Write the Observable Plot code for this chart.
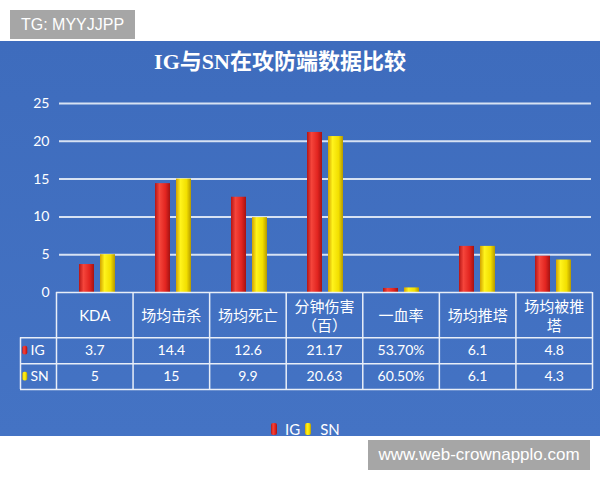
<!DOCTYPE html>
<html><head><meta charset="utf-8">
<script src="https://cdn.jsdelivr.net/npm/d3@7"></script>
<script src="https://cdn.jsdelivr.net/npm/@observablehq/plot@0.6"></script>
<style>
body{margin:0;background:#fff;width:600px;height:480px;position:relative;overflow:hidden;font-family:Lato,"Noto Sans CJK SC",sans-serif}
.wm{position:absolute;background:#a6a6a6;color:#fff;font-family:"Liberation Sans",Arial,sans-serif;display:flex;align-items:center;justify-content:center}
#wm1{left:10px;top:10px;width:125px;height:29px;font-size:16px}
#wm2{left:368px;top:440px;width:222px;height:30px;font-size:17px}
#panel{position:absolute;left:0;top:41px;width:600px;height:395px;background:linear-gradient(180deg,#3e6cbd,#4473c4)}
#title{position:absolute;left:0;top:6px;width:560px;text-align:center;font-weight:bold;font-size:22px;line-height:30px;font-family:"Liberation Serif","Noto Sans CJK SC",serif;color:#fff}
#chart{position:absolute;left:0;top:44px}
#table{position:absolute;left:0;top:249px}
#legend{position:absolute;left:271px;top:379px;display:flex;align-items:center;color:#fff;font-size:15px;line-height:18px}
.sw{display:inline-block;width:6px;height:12px;border-radius:2px}
.sw.ig{background:linear-gradient(90deg,#b51515,#f5443a 35%,#e02520 70%,#a81212)}
.sw.sn{background:linear-gradient(90deg,#d8a800,#fff21a 35%,#f3e000 70%,#b89c00)}
</style></head>
<body>
<div class="wm" id="wm1">TG: MYYJJPP</div>
<div id="panel">
  <div id="title">IG与SN在攻防端数据比较</div>
  <div id="chart"></div>
  <div id="table"></div>
  <div id="legend"><span class="sw ig"></span><span style="margin:0 5px 0 8px">IG</span><span class="sw sn"></span><span style="margin-left:9px">SN</span></div>
</div>
<div class="wm" id="wm2">www.web-crownapplo.com</div>
<script>
// ---- data ----
const categories = ["KDA", "场均击杀", "场均死亡", "分钟伤害\n（百）", "一血率", "场均推塔", "场均被推\n塔"];
const teams = ["IG", "SN"];
const igValues = [3.7, 14.4, 12.6, 21.17, 0.537, 6.1, 4.8];
const snValues = [5, 15, 9.9, 20.63, 0.605, 6.1, 4.3];
const percentCategories = ["一血率"];
const yTicks = [0, 5, 10, 15, 20, 25];

const rows = [];
categories.forEach((c, i) => {
  rows.push({category: c, team: "IG", value: igValues[i], i});
  rows.push({category: c, team: "SN", value: snValues[i], i});
});
const fmtPct = d3.format(".2%");
const fmt = (c, v) => percentCategories.includes(c) ? fmtPct(v) : String(v);

const font = 'Lato, "Noto Sans CJK SC", sans-serif';

// ---- bar chart ----
const chart = Plot.plot({
  width: 600, height: 217,
  marginTop: 18, marginBottom: 10, marginLeft: 57, marginRight: 8,
  style: {background: "transparent", color: "#fff", fontFamily: font, fontSize: "14px", overflow: "visible"},
  facet: {data: rows, x: "category"},
  fx: {domain: categories, padding: 0, axis: null},
  x: {domain: teams, axis: null, paddingInner: 0.27, paddingOuter: 0.88},
  y: {domain: [0, 25], ticks: yTicks, tickSize: 0, tickPadding: 10, label: null},
  marks: [
    Plot.ruleY(yTicks.filter(d => d > 0), {stroke: "#e8eef8", strokeWidth: 2, strokeOpacity: 0.9}),
    Plot.barY(rows, {filter: d => d.team === "IG", x: "team", y: "value", fill: "url(#gIG)"}),
    Plot.barY(rows, {filter: d => d.team === "SN", x: "team", y: "value", fill: "url(#gSN)"})
  ]
});
chart.insertAdjacentHTML("afterbegin", `<defs>
<linearGradient id="gIG" x1="0" x2="1" y1="0" y2="0">
<stop offset="0" stop-color="#b51515"/><stop offset="0.3" stop-color="#f5453b"/><stop offset="0.7" stop-color="#e22520"/><stop offset="1" stop-color="#a51212"/></linearGradient>
<linearGradient id="gSN" x1="0" x2="1" y1="0" y2="0">
<stop offset="0" stop-color="#d2a200"/><stop offset="0.3" stop-color="#fff31c"/><stop offset="0.7" stop-color="#f2df00"/><stop offset="1" stop-color="#b59a00"/></linearGradient>
</defs>`);
document.getElementById("chart").append(chart);

// ---- data table ----
const n = categories.length;
const labelCol = -0.47;          // width of the series-label column, in column units
const hdr = 1.75;                // header row height, in row units
const cells = [];
categories.forEach((c, i) => {
  cells.push({x: i + 0.5, y: hdr + 0.5, text: fmt(c, igValues[i])});
  cells.push({x: i + 0.5, y: hdr + 1.5, text: fmt(c, snValues[i])});
});
const heads = categories.map((c, i) => ({x: i + 0.5, y: hdr / 2, text: c}));
const rowLabels = teams.map((t, k) => ({team: t, y: hdr + 0.5 + k}));

const table = Plot.plot({
  width: 600, height: 102,
  marginTop: 2, marginBottom: 3, marginLeft: 20, marginRight: 8,
  style: {background: "transparent", color: "#fff", fontFamily: font, overflow: "visible"},
  x: {domain: [labelCol, n], axis: null},
  y: {domain: [0, hdr + 2], reverse: true, axis: null},
  marks: [
    Plot.ruleY([0], {x1: 0, x2: n, stroke: "#e8eef8", strokeWidth: 1.5}),
    Plot.ruleY([hdr, hdr + 1, hdr + 2], {x1: labelCol, x2: n, stroke: "#e8eef8", strokeWidth: 1.5}),
    Plot.ruleX(d3.range(0, n + 1), {y1: 0, y2: hdr + 2, stroke: "#e8eef8", strokeWidth: 1.5}),
    Plot.ruleX([labelCol], {y1: hdr, y2: hdr + 2, stroke: "#e8eef8", strokeWidth: 1.5}),
    Plot.text(heads, {x: "x", y: "y", text: "text", fill: "#fff", fontSize: 15, lineHeight: 1.27}),
    Plot.text(cells, {x: "x", y: "y", text: "text", fill: "#fff", fontSize: 14}),
    Plot.rect(rowLabels, {x1: labelCol + 0.03, x2: labelCol + 0.095, y1: d => d.y - 0.17, y2: d => d.y + 0.17,
      fill: d => d.team === "IG" ? "url(#gIG)" : "url(#gSN)", rx: 2}),
    Plot.text(rowLabels, {x: labelCol, y: "y", text: "team", dx: 10, textAnchor: "start", fill: "#fff", fontSize: 14})
  ]
});
document.getElementById("table").append(table);
</script>
</body></html>
